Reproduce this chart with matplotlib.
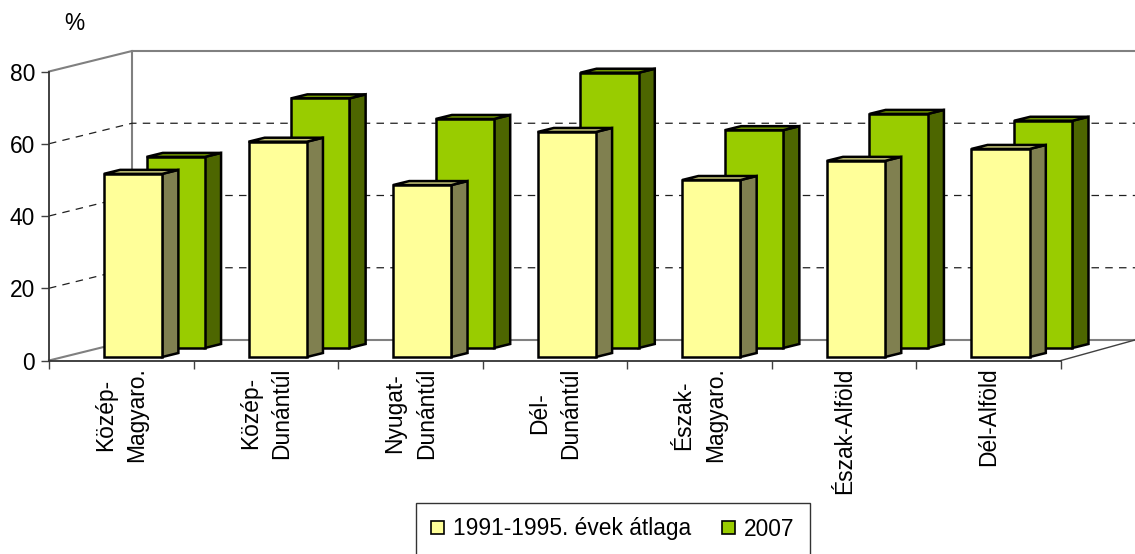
import matplotlib
matplotlib.use('Agg')
import matplotlib.pyplot as plt
from matplotlib.patches import Polygon, Patch

plt.rcParams['font.family'] = ['Liberation Sans', 'DejaVu Sans']

categories = ['Közép-\nMagyaro.', 'Közép-\nDunántúl', 'Nyugat-\nDunántúl', 'Dél-\nDunántúl',
              'Észak-\nMagyaro.', 'Észak-Alföld', 'Dél-Alföld']
avg_1991_95 = [50.7, 59.6, 47.6, 62.3, 49.0, 54.3, 57.6]
values_2007 = [52.9, 69.1, 63.4, 76.2, 60.3, 64.8, 62.9]
y_ticks = [0, 20, 40, 60, 80]

W, H = 1135, 554
LEFT, RIGHT, BASE, TOP = 49, 1061, 360.5, 71.5
# oblique depth of the chart box, in data units
DX = 83 / ((RIGHT - LEFT) / 7)
DY = 20.5 / ((BASE - TOP) / 80)
BAR_W = 0.403
BAR_D = 0.195
FONT = 16.4


def proj(x, y, z):
    return (x + z * DX, y + z * DY)


def draw_bar(ax, x0, val, z, front, side, top):
    a = proj(x0, 0, z)
    f = [a, (a[0] + BAR_W, a[1]), (a[0] + BAR_W, a[1] + val), (a[0], a[1] + val)]
    d = (BAR_D * DX, BAR_D * DY)
    s = [f[1], f[2], (f[2][0] + d[0], f[2][1] + d[1]), (f[1][0] + d[0], f[1][1] + d[1])]
    t = [f[3], f[2], s[2], (f[3][0] + d[0], f[3][1] + d[1])]
    for pts, col in ((s, side), (t, top), (f, front)):
        ax.add_patch(Polygon(pts, closed=True, fc=col, ec='black', lw=1.8,
                             joinstyle='miter', clip_on=False, zorder=5))


fig = plt.figure(figsize=(W / 100, H / 100), dpi=100)
ax = fig.add_axes([LEFT / W, (H - BASE) / H, (RIGHT - LEFT) / W, (BASE - TOP) / H])
ax.set_xlim(0, 7)
ax.set_ylim(0, 80)

# back wall and floor
wall_end = 7 + 74 / 144.6
ax.plot([0, DX, wall_end], [80, 80 + DY, 80 + DY], color='#808080', lw=1.5, clip_on=False, zorder=1)
ax.plot([DX, DX], [DY, 80 + DY], color='#808080', lw=1.5, clip_on=False, zorder=1)
ax.plot([0, DX, wall_end], [0, DY, DY], color='#808080', lw=1.5, clip_on=False, zorder=1)
ax.plot([7, wall_end], [0, DY], color='#404040', lw=1, clip_on=False, zorder=1)

# dashed gridlines
for v in y_ticks[1:-1]:
    ax.plot([0, DX, wall_end], [v, v + DY, v + DY], color='#202020', lw=0.9,
            dashes=(6, 5), clip_on=False, zorder=1)

for i in range(len(categories)):
    draw_bar(ax, i + 0.325, values_2007[i], 0.61, '#99CC00', '#4D6600', '#739900')
for i in range(len(categories)):
    draw_bar(ax, i + 0.2824, avg_1991_95[i], 0.17, '#FFFF99', '#808050', '#CCCC7A')

for sp in ('top', 'right'):
    ax.spines[sp].set_visible(False)
for sp in ('left', 'bottom'):
    ax.spines[sp].set_color('#333333')
    ax.spines[sp].set_linewidth(1.3)

ax.set_yticks(y_ticks)
ax.tick_params(axis='y', length=6, width=1, color='#404040', labelsize=FONT, pad=4)
ax.set_xticks(range(8))
ax.set_xticklabels([])
ax.tick_params(axis='x', which='major', length=6, width=1, color='#404040')
ax.set_xticks([i + 0.5 for i in range(7)], minor=True)
ax.set_xticklabels(categories, minor=True, rotation=90, fontsize=FONT, ha='center', va='top',
                   multialignment='center', linespacing=1.47)
ax.tick_params(axis='x', which='minor', length=0, pad=5)

fig.text(74 / W, 1 - 23 / H, '%', fontsize=FONT, ha='center', va='center')

handles = [Patch(fc='#FFFF99', ec='black', lw=1.2), Patch(fc='#99CC00', ec='black', lw=1.2)]
leg = fig.legend(handles, ['1991-1995. évek átlaga', '2007'], ncol=2, loc='center',
                 bbox_to_anchor=(613 / W, 1 - 529 / H), fontsize=FONT, fancybox=False,
                 framealpha=1, edgecolor='#333333', borderpad=0.65, handlelength=0.55,
                 handleheight=0.55, handletextpad=0.42, columnspacing=1.35, borderaxespad=0)
leg.get_frame().set_linewidth(1)

fig.savefig('out.png', dpi=100)
